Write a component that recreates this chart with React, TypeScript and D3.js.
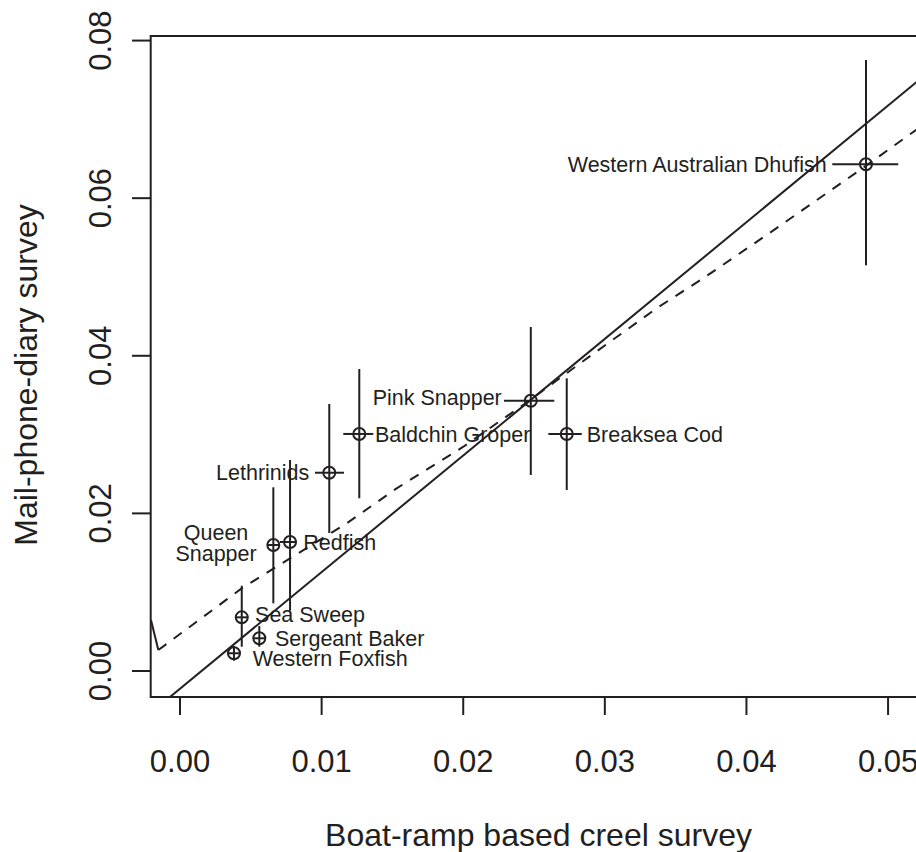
import React from "react";
import * as d3 from "d3";

// ---- data ----
const species = [
  "Queen Snapper",
  "Redfish",
  "Lethrinids",
  "Baldchin Groper",
  "Pink Snapper",
  "Breaksea Cod",
  "Western Australian Dhufish",
  "Sea Sweep",
  "Sergeant Baker",
  "Western Foxfish",
];
const creel = [0.00659, 0.00777, 0.01054, 0.01266, 0.02477, 0.02731, 0.04844, 0.00436, 0.0056, 0.00381];
const creelLo = [0.00619, 0.00706, 0.00953, 0.01153, 0.02288, 0.02601, 0.04606, 0.00388, 0.00518, 0.00334];
const creelHi = [0.00706, 0.00824, 0.01158, 0.01365, 0.02643, 0.02837, 0.05072, 0.00482, 0.00607, 0.00429];
const diary = [0.01599, 0.01637, 0.02516, 0.03008, 0.0343, 0.03008, 0.0643, 0.00681, 0.00415, 0.00225];
const diaryLo = [0.00859, 0.00765, 0.01751, 0.02192, 0.02487, 0.02297, 0.05148, 0.00308, 0.00308, 0.00131];
const diaryHi = [0.02331, 0.02678, 0.03388, 0.03832, 0.04365, 0.03714, 0.07754, 0.01082, 0.00571, 0.00317];

// fitted straight line (solid)
const fitIntercept = -0.00225;
const fitSlope = 1.48;

// smooth curve (dashed)
const smoothX = [-0.00205, -0.00153, 0.00436, 0.01177, 0.0153, 0.02001, 0.02472, 0.02848, 0.03366, 0.03695, 0.04143, 0.04802, 0.05197, 0.05268];
const smoothY = [0.00647, 0.00266, 0.01049, 0.01874, 0.02318, 0.02846, 0.03439, 0.03934, 0.04603, 0.04984, 0.05533, 0.06358, 0.06865, 0.06954];

const xTicks = [0, 0.01, 0.02, 0.03, 0.04, 0.05];
const yTicks = [0, 0.02, 0.04, 0.06, 0.08];
const xTitle = "Boat-ramp based creel survey";
const yTitle = "Mail-phone-diary survey";

// ---- label layout (pixel offsets from point) ----
const labelLayout: { lines: string[]; dx: number; dy: number[]; anchor: string }[] = [
  { lines: ["Queen", "Snapper"], dx: -57.3, dy: [-4.5, 16], anchor: "middle" },
  { lines: ["Redfish"], dx: 13.3, dy: [8], anchor: "start" },
  { lines: ["Lethrinids"], dx: -20, dy: [7.3], anchor: "end" },
  { lines: ["Baldchin Groper"], dx: 15.7, dy: [7.7], anchor: "start" },
  { lines: ["Pink Snapper"], dx: -29, dy: [4.3], anchor: "end" },
  { lines: ["Breaksea Cod"], dx: 20, dy: [7.7], anchor: "start" },
  { lines: ["Western Australian Dhufish"], dx: -39.3, dy: [7.4], anchor: "end" },
  { lines: ["Sea Sweep"], dx: 13.3, dy: [4.4], anchor: "start" },
  { lines: ["Sergeant Baker"], dx: 15.7, dy: [7.6], anchor: "start" },
  { lines: ["Western Foxfish"], dx: 18.7, dy: [13.2], anchor: "start" },
];

const W = 916;
const H = 852;
const left = 150.7;
const right = 926.3;
const top = 36;
const bottom = 697;
const ink = "#231f20";
const font = "'Liberation Sans', Arial, Helvetica, sans-serif";

export default function App() {
  const x = d3.scaleLinear().domain([-0.00207, 0.0527]).range([left, right]);
  const y = d3.scaleLinear().domain([-0.0033, 0.08058]).range([bottom, top]);

  const pts = smoothX.map((v, i) => [v, smoothY[i]] as [number, number]);
  const line = d3
    .line<[number, number]>()
    .x((d) => x(d[0]))
    .y((d) => y(d[1]));
  const tailPath = line(pts.slice(0, 2)) || "";
  const dashPath = line(pts.slice(1)) || "";

  const [dx0, dx1] = x.domain();
  const fitPath =
    line([
      [dx0, fitIntercept + fitSlope * dx0],
      [dx1, fitIntercept + fitSlope * dx1],
    ]) || "";

  return (
    <svg
      width={W}
      height={H}
      style={{ position: "absolute", left: 0, top: 0, background: "#fff" }}
      fontFamily={font}
    >
      <defs>
        <clipPath id="plotclip">
          <rect x={left} y={top} width={right - left} height={bottom - top} />
        </clipPath>
      </defs>
      <rect x={0} y={0} width={W} height={H} fill="#fff" />

      <g clipPath="url(#plotclip)" fill="none" stroke={ink} strokeWidth={2}>
        <path d={fitPath} />
        <path d={tailPath} />
        <path d={dashPath} strokeDasharray="10,9" />
      </g>

      {/* error bars and points */}
      <g stroke={ink} strokeWidth={2} fill="none">
        {species.map((s, i) => (
          <g key={s}>
            <line x1={x(creel[i])} x2={x(creel[i])} y1={y(diaryLo[i])} y2={y(diaryHi[i])} />
            <line x1={x(creelLo[i])} x2={x(creelHi[i])} y1={y(diary[i])} y2={y(diary[i])} />
            <circle cx={x(creel[i])} cy={y(diary[i])} r={6} />
          </g>
        ))}
      </g>

      {/* labels */}
      <g fill={ink} fontSize={21.5}>
        {species.map((s, i) =>
          labelLayout[i].lines.map((ln, j) => (
            <text
              key={s + j}
              x={x(creel[i]) + labelLayout[i].dx}
              y={y(diary[i]) + labelLayout[i].dy[j]}
              textAnchor={labelLayout[i].anchor}
            >
              {ln}
            </text>
          ))
        )}
      </g>

      {/* box */}
      <rect x={left} y={top} width={right - left} height={bottom - top} fill="none" stroke={ink} strokeWidth={2} />

      {/* axes */}
      <g stroke={ink} strokeWidth={2}>
        {xTicks.map((t) => (
          <line key={t} x1={x(t)} x2={x(t)} y1={bottom} y2={bottom + 18} />
        ))}
        {yTicks.map((t) => (
          <line key={t} x1={left} x2={left - 18.7} y1={y(t)} y2={y(t)} />
        ))}
      </g>
      <g fill={ink} fontSize={31}>
        {xTicks.map((t) => (
          <text key={t} x={x(t)} y={772} textAnchor="middle">
            {d3.format(".2f")(t)}
          </text>
        ))}
        {yTicks.map((t) => (
          <text key={t} transform={`translate(111,${y(t)}) rotate(-90)`} textAnchor="middle">
            {d3.format(".2f")(t)}
          </text>
        ))}
      </g>
      <text x={(left + right) / 2} y={845.5} textAnchor="middle" fontSize={32} fill={ink}>
        {xTitle}
      </text>
      <text transform={`translate(37,375) rotate(-90)`} textAnchor="middle" fontSize={32} fill={ink}>
        {yTitle}
      </text>
    </svg>
  );
}
